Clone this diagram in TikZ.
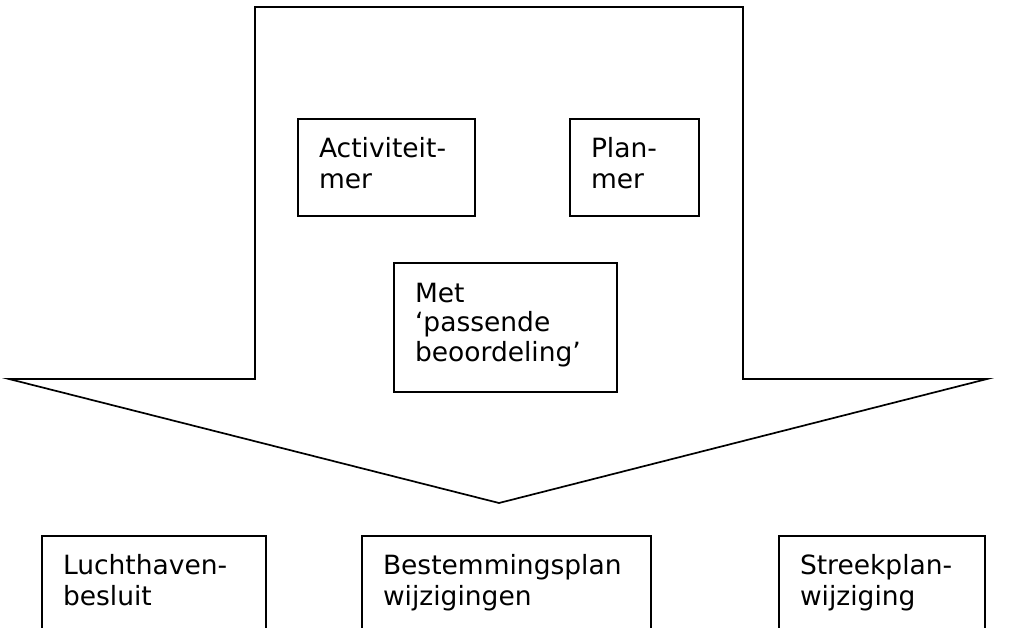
\documentclass[tikz,border=0pt]{standalone}
\usepackage{fontspec}
\setmainfont{DejaVu Sans}
% #1 width, #2 height, #3 baseline skip, #4 first baseline offset, #5 text
\newcommand\bxt[5]{\parbox[t][#2][t]{#1}{\fontsize{26.5}{#3}\selectfont\raggedright\leftskip=21pt\relax\rule{0pt}{#4}#5}}
\begin{document}
\begin{tikzpicture}[x=1pt,y=-1pt,
  outline/.style={draw=black,line width=1.7pt,line join=miter},
  box/.style={draw=black,line width=1.7pt,rectangle,anchor=north west,inner sep=0pt,outer sep=0pt}]
\useasboundingbox (0,0) rectangle (1010,627);
\clip (0,0) rectangle (1010,627);
% big downward arrow
\coordinate (tl) at (255,7);
\coordinate (tr) at (743,7);
\coordinate (sr) at (743,379);
\coordinate (wr) at (987,379);
\coordinate (tip) at (499,503);
\coordinate (wl) at (9,379);
\coordinate (sl) at (255,379);
\draw[outline] (tl) -- (tr) -- (sr) -- (wr) -- (tip) -- (wl) -- (sl) -- cycle;
% inner boxes
\node[box] (act) at (298,119) {\bxt{177pt}{97pt}{31pt}{38pt}{Activiteit-\\mer}};
\node[box] (plan) at (570,119) {\bxt{129pt}{97pt}{31pt}{38pt}{Plan-\\mer}};
\node[box] (met) at (394,263) {\bxt{223pt}{129pt}{29.5pt}{39pt}{Met\\‘passende\\beoordeling’}};
% bottom boxes
\node[box] (lucht) at (42,536) {\bxt{224pt}{100pt}{31pt}{38pt}{Luchthaven-\\besluit}};
\node[box] (best) at (362,536) {\bxt{289pt}{100pt}{31pt}{38pt}{Bestemmingsplan\\wijzigingen}};
\node[box] (streek) at (779,536) {\bxt{206pt}{100pt}{31pt}{38pt}{Streekplan-\\wijziging}};
\end{tikzpicture}
\end{document}
